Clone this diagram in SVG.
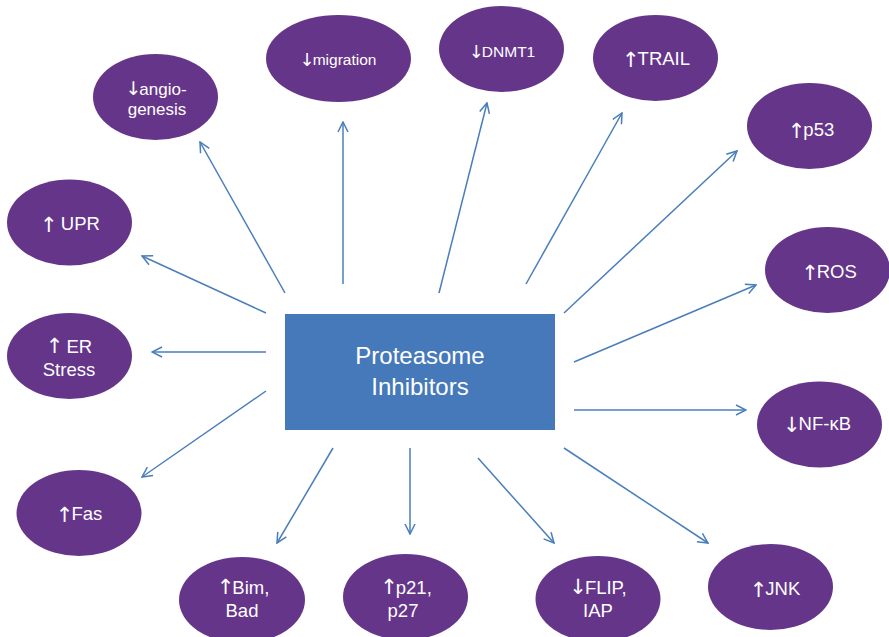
<svg xmlns="http://www.w3.org/2000/svg" width="889" height="637" viewBox="0 0 889 637">
<style>
.n ellipse{fill:#65358A;}
text{font-family:"Liberation Sans",Arial,sans-serif;fill:#fff;text-anchor:middle;}
.a{font-family:"DejaVu Sans",sans-serif;font-size:21px;letter-spacing:-2px;}
.l{font-size:18.5px;}
.s{font-size:15.5px;}
.c{font-size:24px;}
#connectors line{stroke:#4A7EBB;stroke-width:1.5;fill:none;marker-end:url(#ah);}
</style>
<defs>
<marker id="ah" viewBox="0 0 12 12" refX="11" refY="6" markerWidth="12" markerHeight="12" markerUnits="userSpaceOnUse" orient="auto">
<path d="M1,1 L11,6 L1,11" fill="none" stroke="#4A7EBB" stroke-width="1.5"/>
</marker>
</defs>
<rect width="889" height="637" fill="#fff"/>
<g id="connectors">
<line x1="285" y1="293" x2="200" y2="142"/>
<line x1="343" y1="284" x2="343" y2="122"/>
<line x1="439" y1="293" x2="487" y2="103"/>
<line x1="526" y1="284" x2="622" y2="113"/>
<line x1="564" y1="313" x2="737" y2="151"/>
<line x1="574" y1="362" x2="756" y2="285"/>
<line x1="574" y1="410" x2="746" y2="410"/>
<line x1="564" y1="448" x2="708" y2="543"/>
<line x1="478" y1="458" x2="554" y2="543"/>
<line x1="410" y1="448" x2="410" y2="534"/>
<line x1="333" y1="448" x2="277" y2="543"/>
<line x1="266" y1="391" x2="142" y2="477"/>
<line x1="266" y1="352" x2="152" y2="352"/>
<line x1="266" y1="313" x2="142" y2="256"/>
</g>
<g id="center">
<rect x="285" y="314" width="270" height="116" fill="#4679B9"/>
<text class="c" x="420" y="364">Proteasome</text>
<text class="c" x="420" y="395">Inhibitors</text>
</g>
<g id="angiogenesis" class="n">
<ellipse cx="155.5" cy="97" rx="62.5" ry="43"/>
<text x="156" y="95" style="font-size:17px"><tspan class="a" style="font-size:19px">↓</tspan>angio-</text>
<text x="157" y="115" style="font-size:17px">genesis</text>
</g>
<g id="migration" class="n">
<ellipse cx="338.5" cy="58.5" rx="72.5" ry="43.5"/>
<text class="s" x="338" y="65"><tspan class="a" style="font-size:18px" dy="1">↓</tspan><tspan dy="-1">migration</tspan></text>
</g>
<g id="dnmt1" class="n">
<ellipse cx="501.5" cy="49" rx="62.5" ry="43"/>
<text class="s" x="502" y="57"><tspan class="a" style="font-size:18px" dy="1">↓</tspan><tspan dy="-1">DNMT1</tspan></text>
</g>
<g id="trail" class="n">
<ellipse cx="655.5" cy="58" rx="62.5" ry="43"/>
<text class="l" x="656" y="65"><tspan class="a" dy="2">↑</tspan><tspan dy="-2">TRAIL</tspan></text>
</g>
<g id="p53" class="n">
<ellipse cx="809.5" cy="126" rx="62.5" ry="43"/>
<text class="l" x="811" y="136"><tspan class="a" dy="2">↑</tspan><tspan dy="-2">p53</tspan></text>
</g>
<g id="ros" class="n">
<ellipse cx="827.5" cy="270" rx="62.5" ry="43"/>
<text class="l" x="829" y="278"><tspan class="a" dy="2">↑</tspan><tspan dy="-2">ROS</tspan></text>
</g>
<g id="nfkb" class="n">
<ellipse cx="819.5" cy="424.5" rx="62.5" ry="43"/>
<text class="l" x="817" y="430"><tspan class="a" dy="2">↓</tspan><tspan dy="-2">NF-κB</tspan></text>
</g>
<g id="jnk" class="n">
<ellipse cx="770.5" cy="587" rx="62.5" ry="43"/>
<text class="l" x="775" y="595"><tspan class="a" dy="2">↑</tspan><tspan dy="-2">JNK</tspan></text>
</g>
<g id="flip" class="n">
<ellipse cx="598" cy="599" rx="62.5" ry="43"/>
<text class="l" x="598" y="594"><tspan class="a">↓</tspan>FLIP,</text>
<text class="l" x="598" y="617">IAP</text>
</g>
<g id="p21" class="n">
<ellipse cx="405.5" cy="597" rx="62.5" ry="43"/>
<text class="l" x="406" y="594"><tspan class="a">↑</tspan>p21,</text>
<text class="l" x="403" y="617">p27</text>
</g>
<g id="bim" class="n">
<ellipse cx="242" cy="600" rx="63" ry="43"/>
<text class="l" x="243" y="594"><tspan class="a">↑</tspan>Bim,</text>
<text class="l" x="242" y="617">Bad</text>
</g>
<g id="fas" class="n">
<ellipse cx="79" cy="513" rx="62.5" ry="43"/>
<text class="l" x="79" y="520"><tspan class="a" dy="2">↑</tspan><tspan dy="-2">Fas</tspan></text>
</g>
<g id="er" class="n">
<ellipse cx="69.5" cy="356" rx="62.5" ry="43"/>
<text class="l" x="69" y="353"><tspan class="a">↑</tspan> ER</text>
<text class="l" x="69" y="376">Stress</text>
</g>
<g id="upr" class="n">
<ellipse cx="69.5" cy="222.5" rx="62.5" ry="43"/>
<text class="l" x="70" y="230"><tspan class="a" dy="2">↑</tspan><tspan dy="-2"> UPR</tspan></text>
</g>
</svg>
